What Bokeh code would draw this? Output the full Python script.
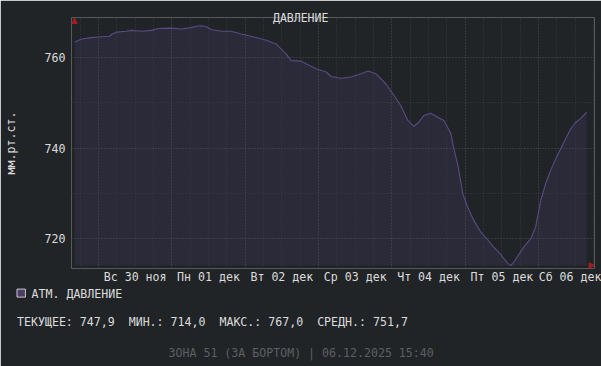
from datetime import datetime, timedelta

from bokeh.plotting import figure
from bokeh.models import (Range1d, FixedTicker, Title, Arrow, NormalHead,
                          ColumnDataSource)
from bokeh.embed import file_html
from bokeh.resources import INLINE

# ---------------- data ----------------
BASE = datetime(2025, 11, 30, 0, 0)          # hours below are counted from here
HOURS = [-7.8, -5.5, -2.3, 1.0, 3.6, 4.5, 5.9, 9.1, 10.8, 14.0, 17.3, 19.6,
         23.8, 27.1, 30.4, 32.0, 33.6, 35.3, 36.9, 40.2, 43.4, 46.7, 51.6, 54.9,
         58.1, 61.4, 63.0, 66.3, 67.9, 71.2, 74.5, 76.1, 79.4, 82.6, 85.9, 88.2,
         90.8, 94.0, 96.7, 98.9, 101.2, 103.2, 104.8, 106.5, 108.7, 111.0, 113.0,
         115.3, 116.2, 117.6, 119.2, 120.8, 122.8, 125.1, 127.0, 129.3, 131.6,
         132.6, 133.9, 134.9, 135.8, 137.1, 139.1, 141.4, 143.0, 144.7, 146.3,
         147.9, 149.6, 151.2, 152.8, 154.5, 156.1, 157.7, 159.7]
PRESSURE = [763.4, 764.1, 764.4, 764.6, 764.7, 765.2, 765.6, 765.8, 766.0,
            765.8, 766.0, 766.4, 766.5, 766.3, 766.6, 766.9, 767.0, 766.8, 766.2,
            765.8, 765.8, 765.2, 764.4, 763.8, 763.0, 760.8, 759.3, 759.2, 758.6,
            757.5, 756.8, 755.8, 755.4, 755.7, 756.4, 757.0, 756.4, 754.2, 751.6,
            749.4, 746.1, 744.8, 745.7, 747.2, 747.7, 746.8, 746.1, 743.2, 740.1,
            736.1, 729.9, 726.9, 724.0, 721.4, 720.0, 718.1, 716.5, 715.6, 714.5,
            714.0, 714.7, 716.0, 718.1, 719.9, 722.5, 728.4, 732.1, 735.0, 737.6,
            739.8, 742.0, 744.2, 745.7, 746.5, 747.9]
DAY_LABELS = ["Вс 30 ноя", "Пн 01 дек", "Вт 02 дек", "Ср 03 дек",
              "Чт 04 дек", "Пт 05 дек", "Сб 06 дек"]
Y_TICKS = [720, 740, 760]
Y_MINOR = [730, 750]
TITLE = "ДАВЛЕНИЕ"
Y_LABEL = "мм.рт.ст."
SERIES_NAME = "АТМ. ДАВЛЕНИЕ"
STAT_NAMES = ["ТЕКУЩЕЕ:", "МИН.:", "МАКС.:", "СРЕДН.:"]
STAT_VALUES = [747.9, 714.0, 767.0, 751.7]
FOOTER = "ЗОНА 51 (ЗА БОРТОМ) | 06.12.2025 15:40"
X_START = datetime(2025, 11, 29, 15, 11)
X_END = datetime(2025, 12, 6, 18, 17)
Y_MIN, Y_MAX = 713.37, 768.84
AREA_BASE = 714.03

# ---------------- style ----------------
BG = "#212427"
AREA = "#2b2a38"
LINE = "#5a4a85"
TEXT = "#dcdcdc"
GRID_MAJOR = "#4d5156"
GRID_MINOR = "#383b40"
ARROW_C = "#a11d1d"
FOOT_C = "#5c5f63"
SWATCH = "#4b3c68"
SWATCH_LINE = "#c8c8c8"
MONO = "DejaVu Sans Mono"
FS = "11.6px"
NBSP2 = "\u00a0\u00a0"


def ms(dt):
    return int((dt - datetime(1970, 1, 1)).total_seconds() * 1000)


times = [BASE + timedelta(hours=h) for h in HOURS]
src = ColumnDataSource(dict(t=times, v=PRESSURE, base=[AREA_BASE] * len(PRESSURE)))

p = figure(width=601, height=366, x_axis_type="datetime",
           x_range=Range1d(X_START, X_END), y_range=Range1d(Y_MIN, Y_MAX),
           output_backend="svg", toolbar_location=None,
           background_fill_color=BG, border_fill_color=BG,
           outline_line_color=None,
           min_border_left=70, min_border_right=7,
           min_border_top=17, min_border_bottom=98)

p.varea(x="t", y1="base", y2="v", source=src, fill_color=AREA)
ln = p.line(x="t", y="v", source=src, line_color=LINE, line_width=1.1)
ln.level = "overlay"

# grids (ticks kept inside the visible range)
x0, x1 = ms(X_START), ms(X_END)
midnights = [ms(BASE + timedelta(days=i)) for i in range(0, 7)]
six_h = [t for t in (ms(BASE + timedelta(hours=6 * i)) for i in range(-4, 30))
         if x0 < t < x1 and t not in midnights]
noons = [ms(BASE + timedelta(days=i, hours=12)) for i in range(len(DAY_LABELS))]

xg = p.xgrid[0]
xg.ticker = FixedTicker(ticks=midnights, minor_ticks=six_h)
yg = p.ygrid[0]
yg.ticker = FixedTicker(ticks=Y_TICKS, minor_ticks=Y_MINOR)
for g in (xg, yg):
    g.grid_line_color = GRID_MAJOR
    g.grid_line_dash = "1 2"
    g.minor_grid_line_color = GRID_MINOR
    g.minor_grid_line_dash = "1 2"
    g.level = "annotation"

# axes
xa = p.xaxis[0]
xa.ticker = FixedTicker(ticks=noons)
xa.major_label_overrides = {t: lab for t, lab in zip(noons, DAY_LABELS)}
xa.major_tick_in = 0
xa.major_tick_out = 0
xa.minor_tick_line_color = None
xa.axis_line_color = None
xa.major_label_standoff = 1
ya = p.yaxis[0]
ya.ticker = FixedTicker(ticks=Y_TICKS)
ya.major_tick_in = 0
ya.major_tick_out = 0
ya.minor_tick_line_color = None
ya.axis_line_color = None
ya.major_label_standoff = 6
ya.axis_label = Y_LABEL
ya.axis_label_text_font = MONO
ya.axis_label_text_font_size = FS
ya.axis_label_text_font_style = "normal"
ya.axis_label_text_color = TEXT
ya.axis_label_standoff = 24
for a in (xa, ya):
    a.major_label_text_font = MONO
    a.major_label_text_font_size = FS
    a.major_label_text_color = TEXT

# axis arrows (screen units from the frame's bottom-left corner)
p.add_layout(Arrow(x_start=3, y_start=240, x_end=3, y_end=250.5,
                   start_units="screen", end_units="screen", line_alpha=0,
                   end=NormalHead(size=5.5, fill_color=ARROW_C, line_color=ARROW_C)))
p.add_layout(Arrow(x_start=510, y_start=3, x_end=523, y_end=3,
                   start_units="screen", end_units="screen", line_alpha=0,
                   end=NormalHead(size=5.5, fill_color=ARROW_C, line_color=ARROW_C)))

# title
p.title.text = TITLE
p.title.align = "left"
p.title.offset = 201.5
p.title.vertical_align = "bottom"
p.title.standoff = -14.7
p.title.text_font = MONO
p.title.text_font_size = "11.5px"
p.title.text_font_style = "normal"
p.title.text_color = TEXT


def below_title(text, offset, standoff, valign="top", color=TEXT, size=FS, **kw):
    t = Title(text=text, align="left", offset=offset, vertical_align=valign,
              standoff=standoff, text_font=MONO, text_font_size=size,
              text_font_style="normal", text_color=color, **kw)
    p.add_layout(t, "below")


# legend row: series name, then its swatch box (zero-height slot) on the same row
below_title(SERIES_NAME, -40, 1.4)
below_title("  ", -54.5, -28.8, size="7px", background_fill_color=SWATCH,
            border_line_color=SWATCH_LINE, border_line_width=1)
stats = NBSP2.join(n + "\u00a0" + f"{v:.1f}".replace(".", ",")
                   for n, v in zip(STAT_NAMES, STAT_VALUES))
below_title(stats, -54.5, 23.6)
below_title(FOOTER, 97, 1, valign="bottom", color=FOOT_C)

open("out.html", "w").write(file_html(p, INLINE))
